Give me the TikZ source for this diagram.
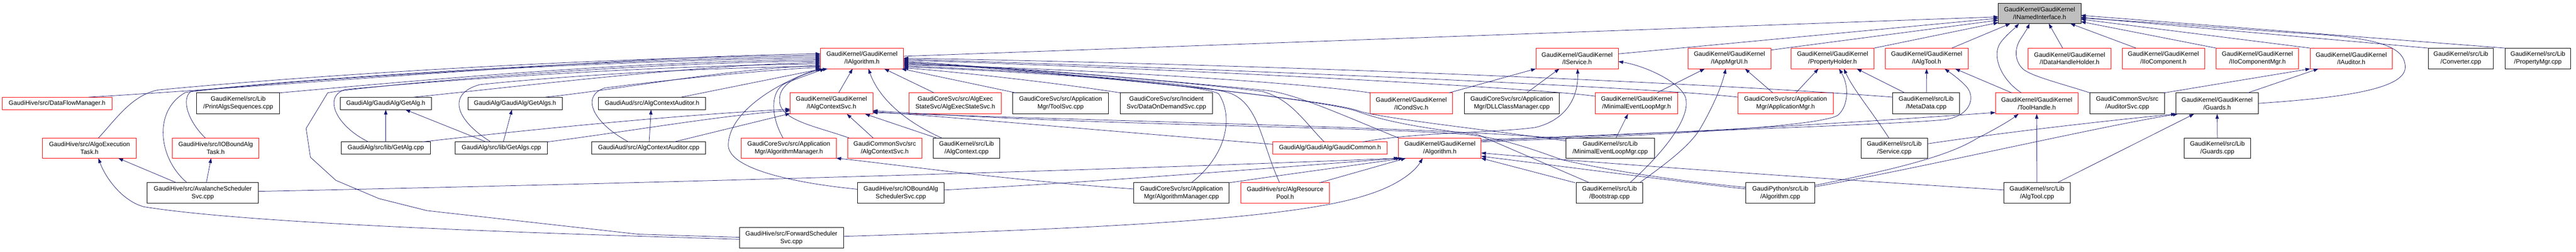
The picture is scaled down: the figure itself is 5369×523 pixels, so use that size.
\documentclass[tikz,border=0pt]{standalone}
\usepackage{fontspec}
\setmainfont{Liberation Sans}
\usetikzlibrary{arrows.meta}
\definecolor{edgec}{HTML}{191970}
\definecolor{grayf}{HTML}{BFBFBF}
\newcommand\gbox[7]{\node[box,draw=#6,minimum width={(#4-#2)*1pt},minimum height={(#5-#3)*1pt}] (#1) at ({(#2+#4)/2},{(#3+#5)/2}) {#7};}
\begin{document}
\begin{tikzpicture}[x=1pt,y=-1pt,
 box/.style={rectangle,inner sep=0pt,outer sep=0pt,line width=1pt,align=center,font=\fontsize{13pt}{16pt}\selectfont,text=black},
 edge/.style={draw=edgec,line width=0.8pt,-{Triangle[length=10pt,width=7pt]}}]
\useasboundingbox (0,0) rectangle (5369,523);
\fill[white] (0,0) rectangle (5369,523);
% ---------- nodes ----------
\node[box,draw=black,fill=grayf,minimum width=172pt,minimum height=42pt] (N0) at (4251,28) {GaudiKernel/GaudiKernel\\/INamedInterface.h};
% row 1
\gbox{A}{1710}{100}{1883}{143}{red}{GaudiKernel/GaudiKernel\\/IAlgorithm.h}
\gbox{ISvc}{3201}{100}{3373}{143}{red}{GaudiKernel/GaudiKernel\\/IService.h}
\gbox{IApp}{3518}{100}{3691}{143}{red}{GaudiKernel/GaudiKernel\\/IAppMgrUI.h}
\gbox{PH}{3733}{100}{3906}{143}{red}{GaudiKernel/GaudiKernel\\/PropertyHolder.h}
\gbox{IAT}{3929}{100}{4102}{143}{red}{GaudiKernel/GaudiKernel\\/IAlgTool.h}
\gbox{IDH}{4227}{100}{4400}{143}{red}{GaudiKernel/GaudiKernel\\/IDataHandleHolder.h}
\gbox{IIo}{4423}{100}{4595}{143}{red}{GaudiKernel/GaudiKernel\\/IIoComponent.h}
\gbox{IIoM}{4619}{100}{4791}{143}{red}{GaudiKernel/GaudiKernel\\/IIoComponentMgr.h}
\gbox{IAud}{4815}{100}{4986}{143}{red}{GaudiKernel/GaudiKernel\\/IAuditor.h}
\gbox{Conv}{5061}{100}{5197}{143}{black}{GaudiKernel/src/Lib\\/Converter.cpp}
\gbox{PMgr}{5221}{100}{5358}{143}{black}{GaudiKernel/src/Lib\\/PropertyMgr.cpp}
% row 2
\gbox{DFM}{5}{202}{233}{228}{red}{GaudiHive/src/DataFlowManager.h}
\gbox{PAS}{410}{193}{583}{237}{black}{GaudiKernel/src/Lib\\/PrintAlgsSequences.cpp}
\gbox{GAh}{709}{202}{899}{228}{black}{GaudiAlg/GaudiAlg/GetAlg.h}
\gbox{GAsh}{975}{202}{1172}{228}{black}{GaudiAlg/GaudiAlg/GetAlgs.h}
\gbox{ACAh}{1247}{202}{1471}{228}{black}{GaudiAud/src/AlgContextAuditor.h}
\gbox{IACS}{1647}{193}{1819}{237}{red}{GaudiKernel/GaudiKernel\\/IAlgContextSvc.h}
\gbox{AESS}{1895}{193}{2087}{237}{red}{GaudiCoreSvc/src/AlgExec\\StateSvc/AlgExecStateSvc.h}
\gbox{TSvc}{2111}{193}{2310}{237}{black}{GaudiCoreSvc/src/Application\\Mgr/ToolSvc.cpp}
\gbox{DOD}{2335}{193}{2527}{237}{black}{GaudiCoreSvc/src/Incident\\Svc/DataOnDemandSvc.cpp}
\gbox{ICond}{2856}{193}{3027}{237}{red}{GaudiKernel/GaudiKernel\\/ICondSvc.h}
\gbox{DLL}{3052}{193}{3250}{237}{black}{GaudiCoreSvc/src/Application\\Mgr/DLLClassManager.cpp}
\gbox{MELh}{3325}{193}{3497}{237}{red}{GaudiKernel/GaudiKernel\\/MinimalEventLoopMgr.h}
\gbox{AppM}{3622}{193}{3821}{237}{red}{GaudiCoreSvc/src/Application\\Mgr/ApplicationMgr.h}
\gbox{MD}{3945}{193}{4084}{237}{black}{GaudiKernel/src/Lib\\/MetaData.cpp}
\gbox{TH}{4159}{193}{4331}{237}{red}{GaudiKernel/GaudiKernel\\/ToolHandle.h}
\gbox{AudSvc}{4356}{193}{4511}{237}{black}{GaudiCommonSvc/src\\/AuditorSvc.cpp}
\gbox{Gh}{4535}{193}{4707}{237}{black}{GaudiKernel/GaudiKernel\\/Guards.h}
% row 3
\gbox{AET}{89}{287}{284}{329}{red}{GaudiHive/src/AlgoExecution\\Task.h}
\gbox{IOT}{359}{287}{540}{329}{red}{GaudiHive/src/IOBoundAlg\\Task.h}
\gbox{GAc}{711}{295}{897}{321}{black}{GaudiAlg/src/lib/GetAlg.cpp}
\gbox{GAsc}{949}{295}{1141}{321}{black}{GaudiAlg/src/lib/GetAlgs.cpp}
\gbox{ACAc}{1233}{295}{1471}{321}{black}{GaudiAud/src/AlgContextAuditor.cpp}
\gbox{AMh}{1545}{287}{1743}{329}{red}{GaudiCoreSvc/src/Application\\Mgr/AlgorithmManager.h}
\gbox{ACSh}{1767}{287}{1921}{329}{red}{GaudiCommonSvc/src\\/AlgContextSvc.h}
\gbox{ACc}{1945}{287}{2084}{329}{black}{GaudiKernel/src/Lib\\/AlgContext.cpp}
\gbox{GC}{2653}{295}{2891}{321}{red}{GaudiAlg/GaudiAlg/GaudiCommon.h}
\gbox{Al}{2915}{287}{3087}{329}{red}{GaudiKernel/GaudiKernel\\/Algorithm.h}
\gbox{MELc}{3264}{287}{3448}{329}{black}{GaudiKernel/src/Lib\\/MinimalEventLoopMgr.cpp}
\gbox{Svcc}{3879}{287}{4017}{329}{black}{GaudiKernel/src/Lib\\/Service.cpp}
\gbox{Gc}{4552}{287}{4691}{329}{black}{GaudiKernel/src/Lib\\/Guards.cpp}
% row 4
\gbox{ASS}{307}{380}{538}{423}{black}{GaudiHive/src/AvalancheScheduler\\Svc.cpp}
\gbox{IOS}{1787}{380}{1968}{423}{black}{GaudiHive/src/IOBoundAlg\\SchedulerSvc.cpp}
\gbox{AMc}{2363}{380}{2562}{423}{black}{GaudiCoreSvc/src/Application\\Mgr/AlgorithmManager.cpp}
\gbox{ARP}{2586}{380}{2771}{423}{red}{GaudiHive/src/AlgResource\\Pool.h}
\gbox{Boot}{3285}{380}{3424}{423}{black}{GaudiKernel/src/Lib\\/Bootstrap.cpp}
\gbox{GPA}{3639}{380}{3782}{423}{black}{GaudiPython/src/Lib\\/Algorithm.cpp}
\gbox{ATc}{4176}{380}{4315}{423}{black}{GaudiKernel/src/Lib\\/AlgTool.cpp}
% row 5
\gbox{FSS}{1541}{473}{1758}{516}{black}{GaudiHive/src/ForwardScheduler\\Svc.cpp}
% ---------- edges into IAlgorithm.h (left) ----------
\draw[edge] ([xshift=66pt]DFM.north) .. controls (600,178) and (1300,116) .. ([yshift=9.5pt]A.west);
\draw[edge] ([xshift=18.5pt]AET.north) .. controls (240,250) and (275,197) .. (330,187) .. controls (700,152) and (1300,118) .. ([yshift=6.5pt]A.west);
\draw[edge] ([xshift=-21.5pt]IOT.north) .. controls (390,250) and (378,205) .. (398,190) .. controls (600,165) and (1300,120) .. ([yshift=3.5pt]A.west);
\draw[edge] ([xshift=-32.5pt]ASS.north) .. controls (330,330) and (318,230) .. (387,192) .. controls (600,165) and (1300,123) .. ([yshift=0.5pt]A.west);
\draw[edge] (PAS.north east) .. controls (900,165) and (1300,128) .. ([yshift=-2.5pt]A.west);
\draw[edge] ([yshift=1pt]FSS.west) -- (1330,487) -- (890,438) -- (790,413) -- (700,375) -- (647,327) -- (638,267) -- (683,193) .. controls (750,180) and (1300,130) .. ([yshift=-5.5pt]A.west);
\draw[edge] ([xshift=-36pt]GAh.north east) .. controls (1100,178) and (1450,135) .. ([yshift=-8.5pt]A.west);
\draw[edge] ([xshift=-36pt]GAc.north) .. controls (700,262) and (672,200) .. (720,186) .. controls (1000,160) and (1400,136) .. ([yshift=-11.5pt]A.west);
\draw[edge] ([xshift=-35pt]GAsh.north east) .. controls (1300,185) and (1500,145) .. ([yshift=-14.5pt]A.west);
\draw[edge] ([xshift=-22pt]GAsc.north) .. controls (950,250) and (930,195) .. (1000,176) .. controls (1200,155) and (1500,140) .. ([yshift=-16.5pt]A.west);
\draw[edge] ([xshift=-42pt]ACAc.north) .. controls (1235,255) and (1210,200) .. (1260,183) .. controls (1400,165) and (1600,145) .. ([yshift=-18.5pt]A.west);
\draw[edge] ([yshift=8pt]IOS.west) .. controls (1650,380) and (1515,350) .. (1518,300) .. controls (1520,240) and (1600,180) .. ([yshift=-20.5pt]A.west);
\draw[edge] ([xshift=-51pt]ACAh.north east) -- ([xshift=4pt]A.south west);
\draw[edge] ([xshift=-12pt]AMh.north) .. controls (1605,240) and (1605,185) .. (1640,172) .. controls (1670,160) and (1700,150) .. ([xshift=9pt]A.south west);
\draw[edge] ([xshift=3pt]ACSh.north west) .. controls (1700,262) and (1620,250) .. (1625,205) .. controls (1625,170) and (1680,150) .. ([xshift=15pt]A.south west);
% bottom
\draw[edge] ([xshift=15pt]IACS.north) -- ([xshift=67pt]A.south west);
\draw[edge] ([xshift=18pt]ACc.north west) .. controls (1880,250) and (1830,200) .. ([xshift=100pt]A.south west);
\draw[edge] ([xshift=52pt]AESS.north west) -- ([xshift=133pt]A.south west);
\draw[edge] ([xshift=6pt]TSvc.north west) -- ([xshift=-4pt]A.south east);
% right
\draw[edge] ([yshift=13pt]MD.west) .. controls (3600,175) and (2700,135) .. ([yshift=0.5pt]A.east);
\draw[edge] ([yshift=13pt]AppM.west) .. controls (3450,182) and (2600,145) .. ([yshift=-1.5pt]A.east);
\draw[edge] ([yshift=15pt]MELh.west) .. controls (3200,183) and (2500,145) .. ([yshift=-3.5pt]A.east);
\draw[edge] ([xshift=28pt]Boot.north west) -- (3080,280) .. controls (2950,265) and (2880,250) .. (2830,232) .. controls (2760,205) and (2200,148) .. ([yshift=-5.5pt]A.east);
\draw[edge] ([yshift=15pt]MELc.west) .. controls (3100,270) and (2870,245) .. (2830,230) .. controls (2760,205) and (2200,150) .. ([yshift=-7.5pt]A.east);
\draw[edge] (Al.north west) .. controls (2800,240) and (2700,195) .. (2640,188) .. controls (2400,165) and (2100,138) .. ([yshift=-9.5pt]A.east);
\draw[edge] ([xshift=-12pt]GC.north) .. controls (2720,255) and (2690,205) .. (2630,190) .. controls (2400,163) and (2100,140) .. ([yshift=-11.5pt]A.east);
\draw[edge] (ICond.north west) .. controls (2700,170) and (2200,140) .. ([yshift=-13.5pt]A.east);
\draw[edge] ([xshift=-11.5pt]ARP.north) .. controls (2630,300) and (2625,220) .. (2567,195) .. controls (2500,170) and (2100,145) .. ([yshift=-15.5pt]A.east);
\draw[edge] ([xshift=20.5pt]AMc.north) .. controls (2560,320) and (2570,240) .. (2540,195) .. controls (2500,172) and (2100,147) .. ([yshift=-17.5pt]A.east);
\draw[edge] (DOD.north west) .. controls (2200,172) and (2000,150) .. ([yshift=-19.5pt]A.east);
% ---------- edges into INamedInterface.h ----------
\draw[edge] ([yshift=4.5pt]A.east) -- ([yshift=-7pt]N0.west);
\draw[edge] ([yshift=9.5pt]ISvc.east) -- ([yshift=-10pt]N0.west);
\draw[edge] ([yshift=17.5pt]IApp.east) -- ([yshift=-14pt]N0.west);
\draw[edge] (PH.north east) -- ([yshift=2pt]N0.south west);
\draw[edge] ([xshift=52.5pt]IAT.north) -- ([xshift=25pt]N0.south west);
\draw[edge] ([xshift=-32pt]TH.north) .. controls (4170,165) and (4150,115) .. (4170,88) .. controls (4182,72) and (4198,60) .. ([xshift=43pt]N0.south west);
\draw[edge] (AudSvc.north west) .. controls (4290,172) and (4240,160) .. (4218,145) .. controls (4198,128) and (4198,100) .. (4212,80) .. controls (4220,68) and (4226,58) .. ([xshift=65pt]N0.south west);
\draw[edge] ([xshift=-14.5pt]IDH.north) -- ([xshift=105pt]N0.south west);
\draw[edge] ([xshift=29pt]IIo.north west) -- ([xshift=-22pt]N0.south east);
\draw[edge] (IIoM.north west) -- ([yshift=-17pt]N0.east);
\draw[edge] (IAud.north west) -- ([yshift=-12pt]N0.east);
\draw[edge] (Conv.north west) -- ([yshift=-8pt]N0.east);
\draw[edge] (PMgr.north west) -- ([yshift=-4pt]N0.east);
\draw[edge] (Gh.east) .. controls (4850,205) and (5013,190) .. (5013,140) .. controls (5013,98) and (4960,82) .. (4840,72) .. controls (4650,60) and (4450,43) .. ([yshift=-10pt]N0.east);
% ---------- IAuditor.h ----------
\draw[edge] (AudSvc.north east) -- (IAud.south west);
\draw[edge] ([xshift=64pt]Gh.north) -- ([xshift=17pt]IAud.south west);
% ---------- Guards.h ----------
\draw[edge] (Gc.north) -- (Gh.south);
\draw[edge] ([yshift=9pt]Svcc.east) .. controls (4200,272) and (4420,248) .. (Gh.south west);
\draw[edge] ([yshift=13pt]GPA.east) .. controls (4000,350) and (4380,262) .. ([xshift=4pt]Gh.south west);
\draw[edge] ([xshift=-27.5pt]ATc.north east) -- ([xshift=38pt]Gh.south west);
% ---------- ToolHandle.h ----------
\draw[edge] (ATc.north) -- (TH.south);
\draw[edge] ([yshift=16pt]GPA.east) .. controls (3950,352) and (4060,325) .. (4120,288) .. controls (4160,268) and (4190,250) .. ([xshift=48pt]TH.south west);
\draw[edge] ([yshift=15pt]Al.east) .. controls (3600,272) and (3900,252) .. ([yshift=3pt]TH.south west);
% ---------- IAlgTool.h ----------
\draw[edge] ([xshift=-52pt]TH.north) -- ([xshift=-27pt]IAT.south east);
\draw[edge] ([xshift=0.5pt]MD.north) -- (IAT.south);
\draw[edge] ([yshift=17pt]Al.east) .. controls (3700,266) and (3950,258) .. (4052,249) .. controls (4105,242) and (4118,205) .. (4100,182) .. controls (4088,168) and (4070,155) .. ([xshift=-49pt]IAT.south east);
% ---------- PropertyHolder.h ----------
\draw[edge] ([xshift=21.5pt]AppM.north) -- ([xshift=57pt]PH.south west);
\draw[edge] ([yshift=13pt]Al.east) .. controls (3500,280) and (3790,262) .. (3830,240) .. controls (3852,222) and (3855,180) .. ([xshift=100pt]PH.south west);
\draw[edge] ([xshift=-11pt]Svcc.north) .. controls (3900,230) and (3862,185) .. ([xshift=110pt]PH.south west);
\draw[edge] ([xshift=25pt]MD.north west) -- ([xshift=137pt]PH.south west);
% ---------- IAppMgrUI.h ----------
\draw[edge] ([xshift=-44pt]MELh.north east) -- ([xshift=35pt]IApp.south west);
\draw[edge] ([xshift=-7pt]Boot.north east) .. controls (3480,335) and (3525,300) .. (3545,265) .. controls (3570,222) and (3588,180) .. ([xshift=79pt]IApp.south west);
\draw[edge] ([xshift=-26.5pt]AppM.north) -- ([xshift=119pt]IApp.south west);
% ---------- IService.h ----------
\draw[edge] ([xshift=-7pt]ICond.north east) -- (ISvc.south west);
\draw[edge] ([xshift=31pt]DLL.north) -- ([xshift=49pt]ISvc.south west);
\draw[edge] ([xshift=-51pt]GC.north east) .. controls (2950,275) and (3120,276) .. (3200,265) .. controls (3262,250) and (3290,205) .. ([xshift=87pt]ISvc.south west);
\draw[edge] ([xshift=42.5pt]Boot.north) .. controls (3470,315) and (3528,240) .. (3512,200) .. controls (3495,165) and (3420,135) .. ([yshift=-6.5pt]ISvc.east);
% ---------- IAlgContextSvc.h ----------
\draw[edge] ([xshift=-17pt]GAc.north east) .. controls (1100,270) and (1400,240) .. ([yshift=-12pt]IACS.west);
\draw[edge] (GAsc.north east) .. controls (1300,275) and (1500,240) .. ([yshift=-15pt]IACS.west);
\draw[edge] ([xshift=-66pt]ACAc.north east) -- ([yshift=-21pt]IACS.west);
\draw[edge] ([xshift=-24pt]ACSh.north) -- ([xshift=118pt]IACS.south west);
\draw[edge] ([xshift=7pt]ACc.north west) -- ([xshift=-16pt]IACS.south east);
\draw[edge] ([yshift=8pt]GC.west) .. controls (2400,280) and (2000,245) .. ([yshift=-17pt]IACS.east);
\draw[edge] ([yshift=-2pt]MELc.north west) .. controls (3000,265) and (2400,255) .. ([yshift=-19pt]IACS.east);
\draw[edge] ([yshift=12pt]GPA.west) .. controls (3450,372) and (3310,345) .. (3255,332) .. controls (3180,305) and (3120,285) .. (3050,279) .. controls (2800,262) and (2300,262) .. ([yshift=-15pt]IACS.east);
% ---------- Algorithm.h ----------
\draw[edge] ([yshift=3.5pt]ASS.east) .. controls (1500,378) and (2400,350) .. (Al.south west);
\draw[edge] ([yshift=6.5pt]IOS.east) .. controls (2300,378) and (2700,345) .. ([xshift=4pt]Al.south west);
\draw[edge] (AMc.north east) .. controls (2700,360) and (2850,340) .. ([xshift=10pt]Al.south west);
\draw[edge] ([xshift=-21pt]ARP.north east) -- ([xshift=15pt]Al.south west);
\draw[edge] ([yshift=3pt]FSS.east) .. controls (2300,475) and (2700,455) .. (2850,405) .. controls (2915,385) and (2950,355) .. ([xshift=50pt]Al.south west);
\draw[edge] ([xshift=-2pt]Boot.north west) -- (Al.south east);
\draw[edge] ([yshift=8.5pt]GPA.west) .. controls (3500,378) and (3250,345) .. ([yshift=4pt]Al.south east);
\draw[edge] ([yshift=6.5pt]ATc.west) .. controls (3900,378) and (3400,345) .. ([yshift=11pt]Al.south east);
% ---------- Hive tasks ----------
\draw[edge] ([xshift=-54.5pt]ASS.north) -- ([xshift=60pt]AET.south);
\draw[edge] ([xshift=7.5pt]ASS.north) -- ([xshift=-9.5pt]IOT.south);
\draw[edge] ([yshift=-3pt]FSS.west) .. controls (1000,482) and (500,462) .. (300,430) .. controls (255,418) and (220,370) .. ([xshift=18.5pt]AET.south);
% ---------- misc ----------
\draw[edge] ([yshift=8.5pt]AMc.west) .. controls (2100,375) and (1850,340) .. (AMh.south east);
\draw[edge] (GAc.north) -- (GAh.south);
\draw[edge] ([xshift=-32pt]GAsc.north) -- ([xshift=41pt]GAh.south);
\draw[edge] ([xshift=4pt]GAsc.north) -- ([xshift=-6.5pt]GAsh.south);
\draw[edge] ([xshift=1pt]ACAc.north) -- ([xshift=-2pt]ACAh.south);
\draw[edge] ([xshift=12pt]MELc.north) -- ([xshift=-18pt]MELh.south);
\end{tikzpicture}
\end{document}
